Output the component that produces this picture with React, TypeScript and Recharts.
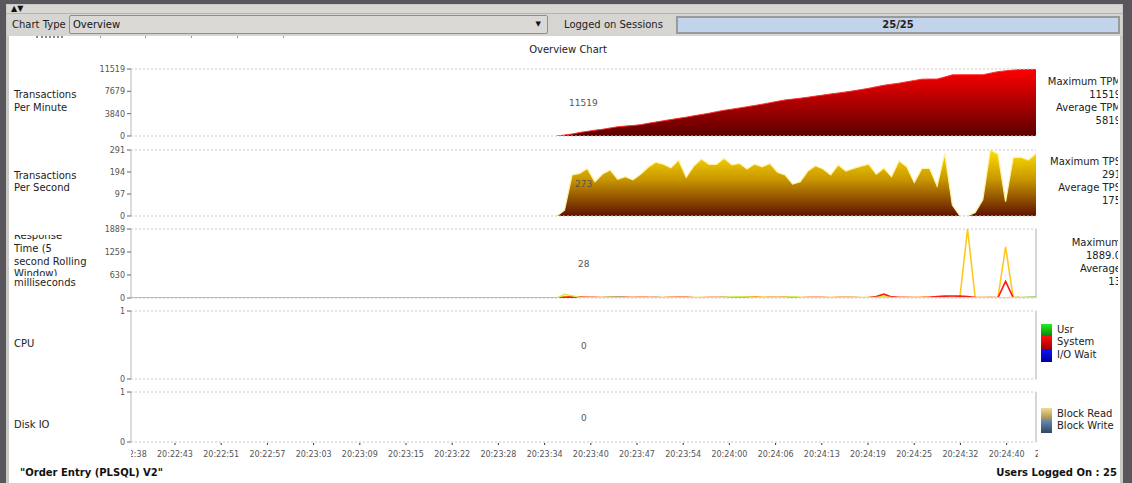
import React from 'react';
import { ComposedChart, Area, Line, XAxis, YAxis, ReferenceLine } from 'recharts';

// Libellés de l'axe du temps (un repère toutes les ~6 mesures)
const TIME_LABELS = [
  '20:22:38', '20:22:43', '20:22:51', '20:22:57', '20:23:03', '20:23:09', '20:23:15',
  '20:23:22', '20:23:28', '20:23:34', '20:23:40', '20:23:47', '20:23:54', '20:24:00',
  '20:24:06', '20:24:13', '20:24:19', '20:24:25', '20:24:32', '20:24:40', '20:24:46',
];

// Transactions par minute (une valeur par mesure, à partir de la mesure 55)
const TPM = [
  0, 170, 345, 610, 800, 1000, 1160, 1380, 1590, 1710, 1810, 1950, 2180, 2400, 2620, 2830,
  3040, 3240, 3480, 3690, 3915, 4180, 4420, 4620, 4820, 5030, 5250, 5470, 5710, 5960, 6200, 6340,
  6500, 6670, 6860, 7040, 7230, 7400, 7580, 7770, 7980, 8200, 8470, 8720, 8910, 9090, 9320, 9540,
  9770, 9790, 9790, 10140, 10520, 10535, 10535, 10535, 10535, 10800, 11060, 11210, 11340, 11440, 11510, 11519,
];

// Transactions par seconde
const TPS = [
  0, 26, 181, 188, 209, 151, 185, 203, 162, 173, 159, 184, 215, 237, 228, 213,
  247, 171, 220, 251, 228, 228, 254, 225, 232, 207, 229, 217, 232, 193, 181, 141,
  151, 198, 222, 207, 181, 225, 198, 210, 220, 229, 184, 210, 173, 244, 217, 148,
  210, 210, 132, 276, 48, 0, 0, 15, 71, 291, 273, 63, 257, 259, 247, 276,
];

// Temps de réponse (ms) par type de transaction
const RT_PINK = [
  0, 15, 30, 30, 28, 20, 15, 20, 25, 25, 25, 25, 15, 10, 12, 20,
  25, 25, 15, 10, 8, 10, 12, 10, 8, 10, 12, 10, 8, 10, 12, 10,
  8, 10, 12, 10, 8, 10, 12, 10, 8, 10, 12, 20, 25, 20, 15, 20,
  25, 25, 25, 20, 15, 20, 25, 20, 15, 10, 8, 10, 12, 10, 8, 10,
];
const RT_CYAN = [
  0, 30, 20, 10, 8, 10, 12, 20, 30, 15, 10, 8, 10, 12, 8, 6,
  8, 10, 8, 6, 8, 10, 15, 10, 8, 6, 8, 10, 8, 6, 8, 10,
  8, 6, 8, 10, 8, 6, 8, 10, 8, 10, 12, 15, 10, 8, 6, 8,
  10, 8, 6, 8, 10, 8, 6, 8, 10, 8, 6, 8, 10, 8, 20, 30,
];
const RT_ORANGE = [
  0, 40, 25, 15, 12, 10, 12, 18, 15, 12, 10, 12, 15, 14, 12, 10,
  12, 14, 12, 10, 10, 12, 14, 12, 25, 35, 35, 25, 20, 15, 25, 15,
  12, 10, 12, 10, 10, 12, 14, 12, 12, 14, 20, 30, 20, 12, 10, 12,
  15, 20, 25, 30, 30, 30, 1889, 20, 15, 12, 10, 1400, 15, 12, 10, 12,
];
const RT_RED = [
  0, 20, 30, 25, 15, 10, 8, 10, 12, 10, 8, 10, 12, 10, 8, 10,
  12, 10, 8, 8, 10, 12, 10, 8, 10, 12, 10, 8, 10, 12, 10, 8,
  8, 10, 12, 10, 8, 10, 12, 10, 8, 15, 40, 105, 30, 12, 10, 8,
  10, 20, 40, 50, 50, 50, 40, 10, 8, 10, 8, 453, 10, 8, 8, 10,
];
const RT_LIME = [
  0, 100, 60, 20, 10, 8, 10, 12, 10, 8, 10, 12, 10, 8, 10, 12,
  10, 8, 10, 12, 10, 15, 20, 30, 35, 25, 15, 10, 12, 15, 20, 35,
  20, 12, 10, 8, 10, 12, 15, 12, 10, 12, 15, 25, 15, 10, 8, 10,
  12, 10, 8, 10, 12, 10, 8, 10, 12, 10, 8, 10, 12, 10, 15, 20,
];

const TPM_TICKS = [0, 3840, 7679, 11519];
const TPS_TICKS = [0, 97, 194, 291];
const RT_TICKS = [0, 630, 1259, 1889];
const UNIT_TICKS = [0, 1];

const X_MIN = -1;
const X_MAX = 118;
const FIRST_SAMPLE = 55;
const TICK_START = -1.29;
const TICK_STEP = 6.075;
const X_TICKS = TIME_LABELS.map((_, k) => TICK_START + k * TICK_STEP);

const ROWS = [
  { i: X_MIN, pink: 0, cyan: 0, orange: 0, red: 0, lime: 0 },
  ...TPM.map((v, j) => ({
    i: FIRST_SAMPLE + j,
    tpm: v,
    tps: TPS[j],
    pink: RT_PINK[j],
    cyan: RT_CYAN[j],
    orange: RT_ORANGE[j],
    red: RT_RED[j],
    lime: RT_LIME[j],
  })),
];

const FONT = '"DejaVu Sans", Verdana, sans-serif';

const TimeTick = (props: any) => {
  const { x, y, index } = props;
  return (
    <g clipPath="url(#xLabelClip)">
      <line x1={x} x2={x} y1={y + 1} y2={y + 3} stroke="#333" />
      <text x={x} y={y + 15} textAnchor="middle" fontSize={8} fill="#555" fontFamily={FONT}>
        {TIME_LABELS[index]}
      </text>
    </g>
  );
};

interface PanelProps {
  top: number;
  plotH: number;
  yMax: number;
  yTicks: number[];
  showX?: boolean;
  rightEdge?: boolean;
  children?: React.ReactNode;
}

const Panel: React.FC<PanelProps> = ({ top, plotH, yMax, yTicks, showX, rightEdge, children }) => {
  const mt = 6;
  const mb = 6;
  const axisH = showX ? 24 : 0;
  return (
    <div style={{ position: 'absolute', left: 0, top: top - mt }}>
      <ComposedChart
        width={1132}
        height={plotH + mt + mb + axisH}
        data={ROWS}
        margin={{ top: mt, right: 96, bottom: mb, left: 0 }}
      >
        <defs>
          <linearGradient id="gTpm" x1="0" y1="0" x2="0" y2="1">
            <stop offset="0%" stopColor="#ff0000" />
            <stop offset="100%" stopColor="#5c0000" />
          </linearGradient>
          <linearGradient id="gTps" x1="0" y1="0" x2="0" y2="1">
            <stop offset="0%" stopColor="#ffe000" />
            <stop offset="45%" stopColor="#c89600" />
            <stop offset="100%" stopColor="#5e1200" />
          </linearGradient>
          <clipPath id="xLabelClip">
            <rect x={131} y={0} width={907} height={1000} />
          </clipPath>
        </defs>
        <XAxis
          dataKey="i"
          type="number"
          domain={[X_MIN, X_MAX]}
          allowDataOverflow
          hide={!showX}
          height={axisH}
          ticks={X_TICKS}
          interval={0}
          axisLine={false}
          tickLine={false}
          tickSize={0}
          tickMargin={0}
          tick={TimeTick}
        />
        <YAxis
          type="number"
          domain={[0, yMax]}
          allowDataOverflow
          ticks={yTicks}
          interval={0}
          width={131}
          tickSize={4}
          tickMargin={2}
          axisLine={{ stroke: '#b8b8b8' }}
          tickLine={{ stroke: '#666' }}
          tick={{ fontSize: 8, fill: '#555', fontFamily: FONT }}
        />
        <ReferenceLine y={yMax} stroke="#c8c8c8" strokeDasharray="2 2" />
        <ReferenceLine y={0} stroke="#c8c8c8" strokeDasharray="2 2" />
        {rightEdge && <ReferenceLine x={X_MAX} stroke="#d6d6d6" strokeWidth={2} />}
        {children}
      </ComposedChart>
    </div>
  );
};

const abs = (s: React.CSSProperties): React.CSSProperties => ({ position: 'absolute', ...s });

const RightStats: React.FC<{ top: number; lines: string[] }> = ({ top, lines }) => (
  <div style={abs({ left: 1000, top, width: 118, height: lines.length * 13.3, overflow: 'hidden' })}>
    <div style={abs({ right: -3, top: 0, textAlign: 'right', whiteSpace: 'nowrap', fontSize: 10, lineHeight: '13.3px', color: '#222' })}>
      {lines.map((l) => (
        <div key={l}>{l}</div>
      ))}
    </div>
  </div>
);

const Swatch: React.FC<{ top: number; from: string; to: string; label: string }> = ({ top, from, to, label }) => (
  <>
    <div style={abs({ left: 1041, top, width: 11, height: 12.7, background: `linear-gradient(${from}, ${to})` })} />
    <div style={abs({ left: 1057, top: top, lineHeight: '12.7px', fontSize: 10, color: '#222', whiteSpace: 'nowrap' })}>{label}</div>
  </>
);

const App: React.FC = () => {
  return (
    <div style={abs({ left: 0, top: 0, width: 1132, height: 483, background: '#59575b', overflow: 'hidden', fontFamily: FONT })}>
      {/* cadre */}
      <div style={abs({ left: 6, top: 4, width: 1117, height: 479, background: '#c9c8c4' })} />
      <div style={abs({ left: 7, top: 5, width: 1115, height: 8, background: '#d8d7d3', borderBottom: '1px solid #b4b3af' })} />
      <div style={abs({ left: 11, top: 4, fontSize: 8, lineHeight: '9px', color: '#111', letterSpacing: 0 })}>▲▼</div>
      <div style={abs({ left: 7, top: 14, width: 1115, height: 22, background: '#d6d5d1' })} />

      {/* barre d'outils */}
      <div style={abs({ left: 12, top: 19, fontSize: 10, lineHeight: '12px', color: '#222' })}>Chart Type</div>
      <div style={abs({ left: 69, top: 15, width: 477, height: 17, background: '#dad9d5', border: '1px solid #8e8e8e', borderRadius: 2 })}>
        <div style={abs({ left: 3, top: 3, fontSize: 10, lineHeight: '12px', color: '#111' })}>Overview</div>
        <div style={abs({ right: 6, top: 4, fontSize: 7, lineHeight: '9px', color: '#111' })}>▼</div>
      </div>
      <div style={abs({ left: 564, top: 19, fontSize: 10, lineHeight: '12px', color: '#222' })}>Logged on Sessions</div>
      <div style={abs({ left: 676, top: 16, width: 440, height: 14, background: '#c2d4e9', border: '2px solid #9a9a9a' })}>
        <div style={abs({ left: 0, top: 1, width: 440, textAlign: 'center', fontSize: 10, lineHeight: '12px', color: '#222', fontWeight: 'bold' })}>25/25</div>
      </div>

      {/* zone blanche */}
      <div style={abs({ left: 9, top: 36, width: 1111, height: 447, background: '#ffffff' })} />
      <div style={abs({ left: 36, top: 36, width: 27, height: 0, borderTop: '2px dotted #888' })} />
      {[100, 145, 191, 237, 283].map((x) => (
        <div key={x} style={abs({ left: x, top: 36, width: 1, height: 2, background: '#999' })} />
      ))}

      <div style={abs({ left: 468, top: 44, width: 200, textAlign: 'center', fontSize: 10, lineHeight: '12px', color: '#222' })}>Overview Chart</div>

      <Panel top={69} plotH={67} yMax={11519} yTicks={TPM_TICKS}>
        <Area type="linear" dataKey="tpm" stroke="#ff3030" strokeWidth={1} fill="url(#gTpm)" fillOpacity={1} dot={false} activeDot={false} isAnimationActive={false} />
      </Panel>
      <Panel top={150} plotH={66} yMax={291} yTicks={TPS_TICKS}>
        <Area type="linear" dataKey="tps" stroke="#fff2a0" strokeWidth={1.2} fill="url(#gTps)" fillOpacity={1} dot={false} activeDot={false} isAnimationActive={false} />
      </Panel>
      <Panel top={229} plotH={69} yMax={1889} yTicks={RT_TICKS} rightEdge>
        <Line type="linear" dataKey="pink" stroke="#ffa8a8" strokeWidth={1.5} dot={false} activeDot={false} isAnimationActive={false} />
        <Line type="linear" dataKey="cyan" stroke="#30e0e0" strokeWidth={1.5} dot={false} activeDot={false} isAnimationActive={false} />
        <Line type="linear" dataKey="orange" stroke="#ffc820" strokeWidth={1.6} dot={false} activeDot={false} isAnimationActive={false} />
        <Line type="linear" dataKey="red" stroke="#ff1a1a" strokeWidth={1.6} dot={false} activeDot={false} isAnimationActive={false} />
        <Line type="linear" dataKey="lime" stroke="#d6ec50" strokeWidth={1.5} dot={false} activeDot={false} isAnimationActive={false} />
      </Panel>
      <Panel top={311} plotH={68} yMax={1} yTicks={UNIT_TICKS} rightEdge />
      <Panel top={392} plotH={50} yMax={1} yTicks={UNIT_TICKS} rightEdge showX />

      {/* libellés de gauche */}
      <div style={abs({ left: 14, top: 89, fontSize: 10, lineHeight: '12.7px', color: '#222' })}>Transactions<br />Per Minute</div>
      <div style={abs({ left: 14, top: 169.5, fontSize: 10, lineHeight: '12.7px', color: '#222' })}>Transactions<br />Per Second</div>
      <div style={abs({ left: 14, top: 235, width: 110, height: 40.5, overflow: 'hidden' })}>
        <div style={abs({ left: 0, top: -4.85, fontSize: 10, lineHeight: '12.7px', color: '#222', whiteSpace: 'nowrap' })}>
          Response<br />Time (5<br />second Rolling<br />Window)
        </div>
      </div>
      <div style={abs({ left: 14, top: 276.5, fontSize: 10, lineHeight: '12.7px', color: '#222' })}>milliseconds</div>
      <div style={abs({ left: 14, top: 337.5, fontSize: 10, lineHeight: '12.7px', color: '#222' })}>CPU</div>
      <div style={abs({ left: 14, top: 418.5, fontSize: 10, lineHeight: '12.7px', color: '#222' })}>Disk IO</div>

      {/* valeurs courantes */}
      <div style={abs({ left: 569, top: 97, fontSize: 9, lineHeight: '12px', color: '#555' })}>11519</div>
      <div style={abs({ left: 575, top: 178, fontSize: 9, lineHeight: '12px', color: '#555' })}>273</div>
      <div style={abs({ left: 578, top: 258, fontSize: 9, lineHeight: '12px', color: '#555' })}>28</div>
      <div style={abs({ left: 581, top: 340, fontSize: 9, lineHeight: '12px', color: '#555' })}>0</div>
      <div style={abs({ left: 581, top: 412, fontSize: 9, lineHeight: '12px', color: '#555' })}>0</div>

      {/* statistiques à droite */}
      <RightStats top={74.5} lines={['Maximum TPM', '11519', 'Average TPM', '5819']} />
      <RightStats top={154.5} lines={['Maximum TPS', '291', 'Average TPS', '175']} />
      <RightStats top={235.5} lines={['Maximum', '1889.0', 'Average', '13']} />

      {/* légendes */}
      <Swatch top={323.5} from="#22ee22" to="#008a00" label="Usr" />
      <Swatch top={336.2} from="#ff1010" to="#a00000" label="System" />
      <Swatch top={348.9} from="#1010ff" to="#00009a" label="I/O Wait" />
      <Swatch top={407.5} from="#f4da8a" to="#9a8a50" label="Block Read" />
      <Swatch top={420.2} from="#6a8cb4" to="#2e4660" label="Block Write" />

      {/* pied de page */}
      <div style={abs({ left: 20, top: 467, fontSize: 10, lineHeight: '12px', fontWeight: 'bold', color: '#111' })}>"Order Entry (PLSQL) V2"</div>
      <div style={abs({ left: 900, top: 467, width: 217, textAlign: 'right', fontSize: 10, lineHeight: '12px', fontWeight: 'bold', color: '#111' })}>Users Logged On : 25</div>
    </div>
  );
};

export default App;
